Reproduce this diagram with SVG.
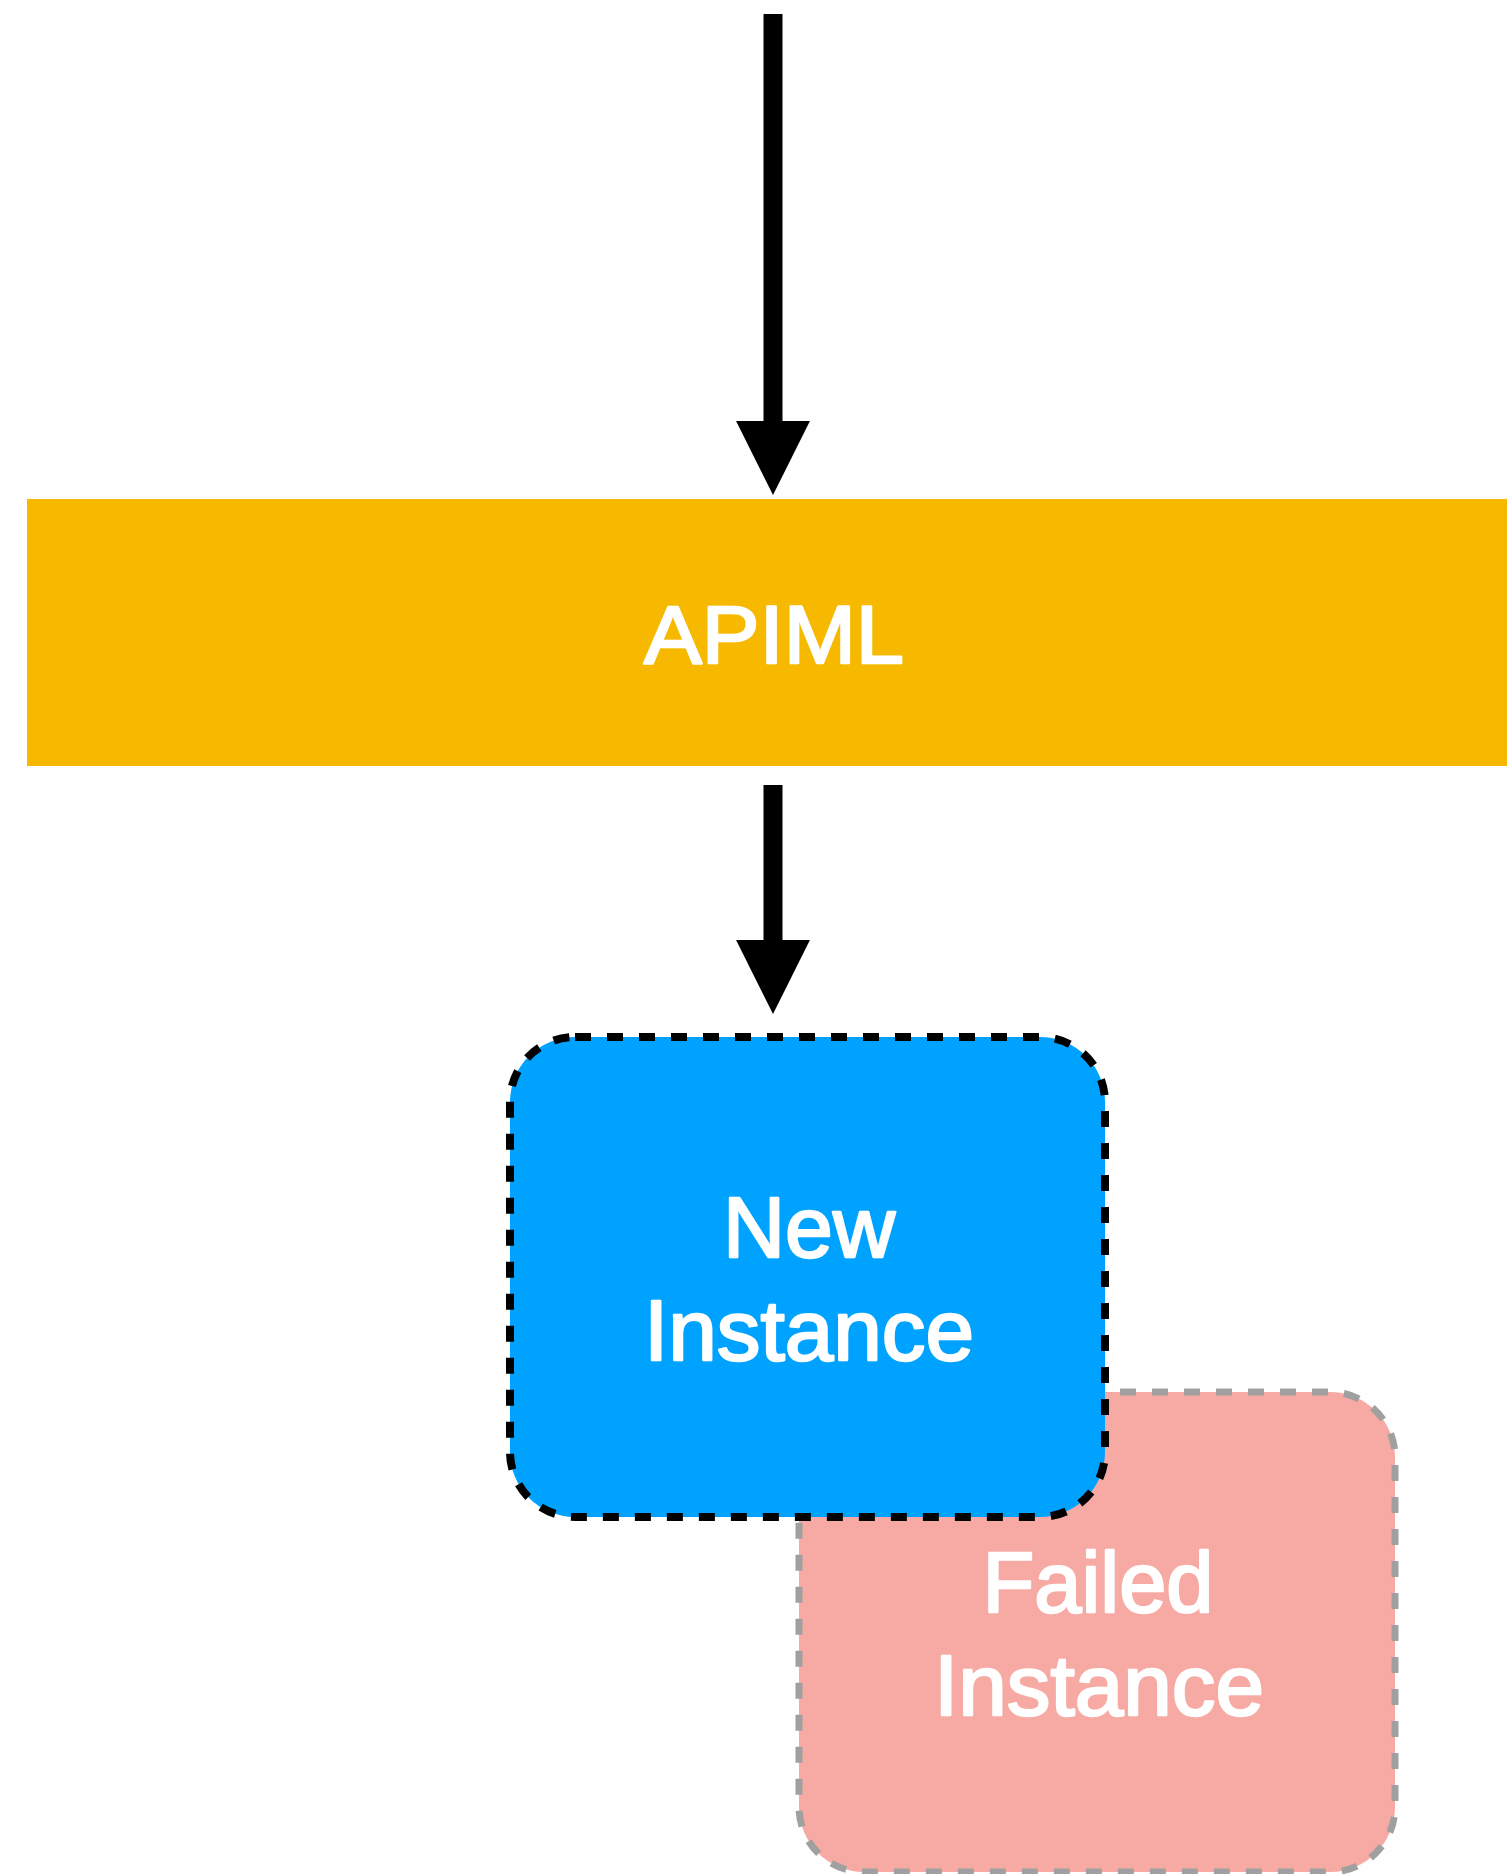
<svg xmlns="http://www.w3.org/2000/svg" width="1507" height="1874" viewBox="0 0 1507 1874">
  <style>
    .lbl { font-family: "Liberation Sans", Arial, sans-serif; fill: #ffffff; stroke: #ffffff; stroke-width: 2.4; stroke-linejoin: round; text-anchor: middle; }
    .conn { stroke: #000000; stroke-width: 19; fill: none; marker-end: url(#arrow); }
  </style>
  <defs>
    <marker id="arrow" markerUnits="userSpaceOnUse" markerWidth="74" markerHeight="74" viewBox="0 0 73 73" refX="9" refY="36.5" orient="auto">
      <path d="M0,0 L73,36.5 L0,73 z" fill="#000000"/>
    </marker>
  </defs>
  <rect x="0" y="0" width="1507" height="1874" fill="#fefefe"/>
  <g id="apiml">
    <rect x="27" y="499" width="1480" height="267" fill="#f6b900"/>
    <text class="lbl" x="774" y="663" font-size="82" textLength="260" lengthAdjust="spacingAndGlyphs">APIML</text>
  </g>
  <g id="failed-instance">
    <rect x="799" y="1392" width="596" height="480" rx="65" ry="65" fill="#f7aaa3" stroke="#a0a0a0" stroke-width="7" stroke-dasharray="16 16"/>
    <text class="lbl" x="1098" y="1612" font-size="85" textLength="231" lengthAdjust="spacingAndGlyphs">Failed</text>
    <text class="lbl" x="1099" y="1715" font-size="85" textLength="330" lengthAdjust="spacingAndGlyphs">Instance</text>
  </g>
  <g id="new-instance">
    <rect x="510" y="1037" width="595" height="480" rx="65" ry="65" fill="#00a2ff" stroke="#000000" stroke-width="8" stroke-dasharray="16 16"/>
    <text class="lbl" x="809" y="1257" font-size="85" textLength="172" lengthAdjust="spacingAndGlyphs">New</text>
    <text class="lbl" x="809" y="1360" font-size="85" textLength="330" lengthAdjust="spacingAndGlyphs">Instance</text>
  </g>
  <g id="connectors">
    <line class="conn" x1="773" y1="14" x2="773" y2="430"/>
    <line class="conn" x1="773" y1="785" x2="773" y2="949"/>
  </g>
</svg>
